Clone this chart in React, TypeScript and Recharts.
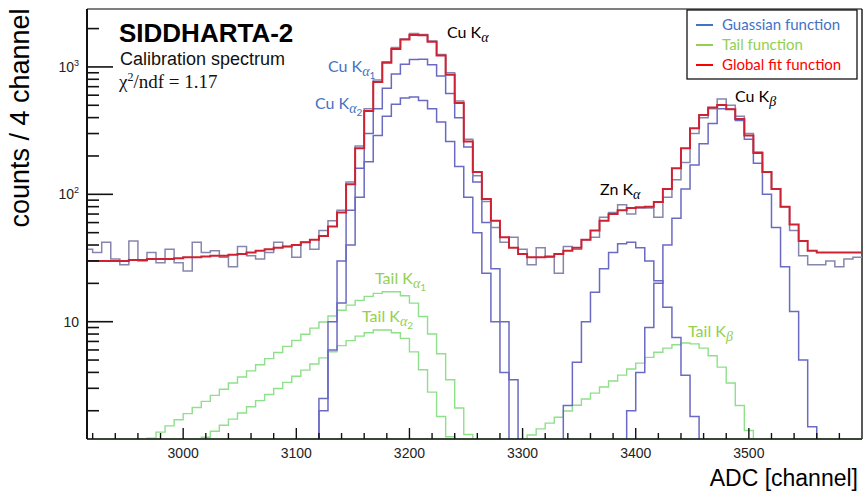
import { LineChart, Line, XAxis, YAxis, ReferenceLine } from "recharts"

// histogram binning (8 ADC channels per step)
const binStart = 2912
const binWidth = 8

// measured spectrum, one value per bin from 2912
const counts = [
  37, 35, 42, 31, 28, 43, 30, 35, 29, 37,
  29, 25, 42, 35, 36, 32, 27, 39, 33, 31,
  35, 42, 39, 32, 42, 37, 52, 62, 75, 125,
  240, 470, 790, 1100, 1420, 1660, 1830, 1800, 1600, 1250,
  900, 540, 270, 140, 88, 55, 42, 46, 37, 28,
  38, 32, 24, 39, 37, 44, 46, 66, 72, 83,
  70, 78, 78, 66, 95, 130, 178, 300, 400, 470,
  560, 500, 410, 300, 215, 150, 110, 80, 52, 33,
  28, 28, 30, 27, 31, 32,
]

// global fit function, same bins
const globalFit = [
  30, 30, 30, 30, 30, 30.5, 30.5, 31, 31, 31,
  31.5, 32, 32, 32.5, 33, 33, 33.5, 34, 35, 36,
  37, 38, 39, 40, 42, 44, 47, 56, 72, 120,
  230, 450, 760, 1080, 1380, 1640, 1780, 1770, 1580, 1230,
  870, 520, 260, 150, 92, 62, 46, 38, 34, 32,
  32, 32.5, 34, 36, 38, 44, 52, 62, 70, 75,
  78, 79, 80, 87, 110, 160, 230, 330, 420, 480,
  503, 465, 390, 290, 211, 150, 110, 80, 58, 43,
  36, 35, 35, 35, 35, 35,
]

// gaussian components
const gaussKa1Start = 3120
const gaussKa1 = [2.5, 10, 30, 75, 160, 300, 470, 680, 880, 1050, 1145, 1150, 1040, 850, 620, 400, 235, 125, 60, 26, 10, 3.5]
const gaussKa2Start = 3120
const gaussKa2 = [2, 6, 14, 40, 95, 180, 290, 410, 510, 570, 580, 545, 470, 370, 260, 165, 95, 50, 24, 10, 4]
const gaussZnStart = 3336
const gaussZn = [2.2, 4.8, 10, 17, 26, 35, 41, 42, 38, 30, 21, 13, 7.5, 3.8, 1.8]
const gaussKbStart = 3392
const gaussKb = [2, 4, 9, 20, 40, 65, 110, 170, 250, 360, 470, 465, 380, 270, 175, 100, 55, 27, 12, 5, 1.5]

// tail components
const tailKa1Start = 2968
const tailKa1 = [
  1.22, 1.36, 1.52, 1.7, 1.9, 2.12, 2.37, 2.64, 2.95, 3.3, 3.68, 4.11, 4.59, 5.13, 5.73, 6.4, 7.14, 7.98,
  8.91, 9.95, 11.1, 12.3, 13.5, 14.7, 15.8, 16.7, 17.2, 17.2, 16, 14, 11, 8, 5.6, 3.5, 2.1, 1.3,
]
const tailKa2Start = 3016
const tailKa2 = [
  1.24, 1.38, 1.54, 1.72, 1.92, 2.15, 2.4, 2.68, 2.99, 3.34, 3.73, 4.17, 4.66, 5.2,
  5.81, 6.49, 7.1, 7.7, 8.2, 8.6, 8.6, 8.2, 7.4, 5.8, 4.2, 2.8, 1.8, 1.25,
]
const tailKbStart = 3304
const tailKb = [1.29, 1.44, 1.6, 1.78, 1.99, 2.21, 2.47, 2.75, 3.07, 3.42, 3.81, 4.25, 4.73, 5.25, 5.75, 6.2, 6.6, 6.8, 6.7, 6.2, 5.4, 4.4, 3.3, 2.2, 1.4]

// axes
const X_MIN = 2915
const X_MAX = 3600
const Y_MIN = 1.2
const Y_MAX = 2850
const xMajor = [3000, 3100, 3200, 3300, 3400, 3500]
const yMajor = [10, 100, 1000]
const yMajorLabels = [["10", ""], ["10", "2"], ["10", "3"]]

const legendItems = [
  { label: "Guassian function", color: "#4472c4" },
  { label: "Tail function", color: "#92d050" },
  { label: "Global fit function", color: "#ff0000" },
]

const BLACK = "#000"
const BLUE_TXT = "#4472c4"
const GREEN_TXT = "#92d050"

const peakLabels = [
  { text: "Cu K", greek: "α", sub: "", color: BLACK, x: 447, y: 38 },
  { text: "Cu K", greek: "α", sub: "1", color: BLUE_TXT, x: 328, y: 72 },
  { text: "Cu K", greek: "α", sub: "2", color: BLUE_TXT, x: 315, y: 109 },
  { text: "Zn K", greek: "α", sub: "", color: BLACK, x: 600, y: 195 },
  { text: "Cu K", greek: "β", sub: "", color: BLACK, x: 735, y: 102 },
  { text: "Tail K", greek: "α", sub: "1", color: GREEN_TXT, x: 375, y: 284 },
  { text: "Tail K", greek: "α", sub: "2", color: GREEN_TXT, x: 362, y: 322 },
  { text: "Tail K", greek: "β", sub: "", color: GREEN_TXT, x: 688, y: 337 },
]

const COLORS = {
  data: "#8686ad",
  fit: "#cc2233",
  gauss: "#6a6ac4",
  tail: "#8ee08a",
}

const BELOW = 0.5 // under the axis floor, so a component steps down to the baseline

function pick(start: number, values: number[], x: number) {
  const i = (x - start) / binWidth
  if (i >= 0 && i < values.length) return values[i]
  if (i === -1 || i === values.length) return BELOW
  return undefined
}

const rows = Array.from({ length: counts.length + 1 }, (_, i) => {
  const x = binStart + i * binWidth
  const last = Math.min(i, counts.length - 1)
  return {
    x,
    data: counts[last],
    fit: globalFit[last],
    ka1: pick(gaussKa1Start, gaussKa1, x),
    ka2: pick(gaussKa2Start, gaussKa2, x),
    zn: pick(gaussZnStart, gaussZn, x),
    kb: pick(gaussKbStart, gaussKb, x),
    tka1: pick(tailKa1Start, tailKa1, x),
    tka2: pick(tailKa2Start, tailKa2, x),
    tkb: pick(tailKbStart, tailKb, x),
  }
})

const xTicks: number[] = []
for (let t = 2920; t < X_MAX; t += 20) xTicks.push(t)
const yTicks: number[] = []
for (const d of [1, 10, 100, 1000]) {
  for (let m = 1; m < 10; m++) {
    const v = d * m
    if (v >= 2 && v <= Y_MAX) yTicks.push(v)
  }
}

const AXIS_FONT = "'Liberation Sans', Arial, sans-serif"
const LABEL_FONT = "Lato, 'Open Sans', sans-serif"

function XTick(props: any) {
  const { x, y, payload } = props
  const major = xMajor.includes(payload.value)
  return (
    <g>
      <line x1={x} x2={x} y1={y} y2={y - (major ? 11 : 6)} stroke="#111" strokeWidth={1.4} />
      {major && (
        <text x={x} y={y + 19} textAnchor="middle" fontSize={14} fontFamily={AXIS_FONT} fill="#222">
          {payload.value}
        </text>
      )}
    </g>
  )
}

function YTick(props: any) {
  const { x, y, payload } = props
  const idx = yMajor.indexOf(payload.value)
  const major = idx >= 0
  return (
    <g>
      <line x1={x} x2={x + (major ? 26 : 12)} y1={y} y2={y} stroke="#111" strokeWidth={1.6} />
      {major && (
        <text x={x - 8} y={y + 5} textAnchor="end" fontSize={14} fontFamily={AXIS_FONT} fill="#222">
          <tspan>{yMajorLabels[idx][0]}</tspan>
          {yMajorLabels[idx][1] && (
            <tspan dy={-6} fontSize={9}>
              {yMajorLabels[idx][1]}
            </tspan>
          )}
        </text>
      )}
    </g>
  )
}

function series(key: string, color: string, width: number) {
  return (
    <Line
      key={key}
      dataKey={key}
      type="stepAfter"
      stroke={color}
      strokeWidth={width}
      dot={false}
      activeDot={false}
      isAnimationActive={false}
    />
  )
}

export default function App() {
  return (
    <div style={{ position: "absolute", left: 0, top: 0, width: 864, height: 496, background: "#fff" }}>
      <LineChart width={864} height={496} data={rows} margin={{ top: 9, right: 2, left: 0, bottom: 27 }}>
        <XAxis
          dataKey="x"
          type="number"
          domain={[X_MIN, X_MAX]}
          allowDataOverflow
          ticks={xTicks}
          interval={0}
          tick={<XTick />}
          tickSize={0}
          tickMargin={0}
          tickLine={false}
          axisLine={{ stroke: "#111", strokeWidth: 1.5 }}
          height={30}
        />
        <YAxis
          type="number"
          scale="log"
          domain={[Y_MIN, Y_MAX]}
          allowDataOverflow
          ticks={yTicks}
          interval={0}
          tick={<YTick />}
          tickSize={0}
          tickMargin={0}
          tickLine={false}
          axisLine={{ stroke: "#111", strokeWidth: 2 }}
          width={87}
        />
        <ReferenceLine y={Y_MAX} stroke="#555" strokeWidth={1.5} />
        <ReferenceLine x={X_MAX} stroke="#222" strokeWidth={1.5} />
        <ReferenceLine y={Y_MIN} stroke={COLORS.tail} strokeWidth={1.5} />
        {series("tka1", COLORS.tail, 1.4)}
        {series("tka2", COLORS.tail, 1.4)}
        {series("tkb", COLORS.tail, 1.4)}
        {series("ka1", COLORS.gauss, 1.5)}
        {series("ka2", COLORS.gauss, 1.5)}
        {series("zn", COLORS.gauss, 1.5)}
        {series("kb", COLORS.gauss, 1.5)}
        {series("data", COLORS.data, 1.5)}
        {series("fit", COLORS.fit, 2)}
      </LineChart>

      <svg width={864} height={496} style={{ position: "absolute", left: 0, top: 0, pointerEvents: "none" }}>
        <text x={119} y={42} fontFamily={AXIS_FONT} fontWeight="bold" fontSize={26} fill="#000">
          SIDDHARTA-2
        </text>
        <text x={120} y={65} fontFamily={AXIS_FONT} fontSize={18} fill="#111">
          Calibration spectrum
        </text>
        <text x={119} y={88} fontFamily="'Liberation Serif', 'DejaVu Serif', serif" fontSize={19} fill="#111">
          χ<tspan dy={-7} fontSize={12}>2</tspan>
          <tspan dy={7}>/ndf = 1.17</tspan>
        </text>

        {peakLabels.map((p, i) => (
          <text key={i} x={p.x} y={p.y} fill={p.color} fontFamily={LABEL_FONT} fontSize={16}>
            {p.text}
            <tspan dy={4} fontSize={14} fontStyle="italic" fontFamily="'Liberation Serif', serif">
              {p.greek}
            </tspan>
            {p.sub && (
              <tspan dy={3} fontSize={10}>
                {p.sub}
              </tspan>
            )}
          </text>
        ))}

        <text
          transform="translate(29, 118) rotate(-90)"
          textAnchor="middle"
          fontFamily={AXIS_FONT}
          fontSize={27}
          fill="#000"
        >
          counts / 4 channel
        </text>
        <text x={858} y={486} textAnchor="end" fontFamily={AXIS_FONT} fontSize={23} fill="#000">
          ADC [channel]
        </text>

        <rect x={687} y={10} width={170} height={69} fill="#fff" stroke="#000" strokeWidth={1.2} />
        {legendItems.map((it, i) => (
          <g key={it.label}>
            <line x1={696} x2={713} y1={25 + i * 20} y2={25 + i * 20} stroke={it.color} strokeWidth={2} />
            <text x={722} y={30 + i * 20} fill={it.color} fontFamily={LABEL_FONT} fontSize={15}>
              {it.label}
            </text>
          </g>
        ))}
      </svg>
    </div>
  )
}
